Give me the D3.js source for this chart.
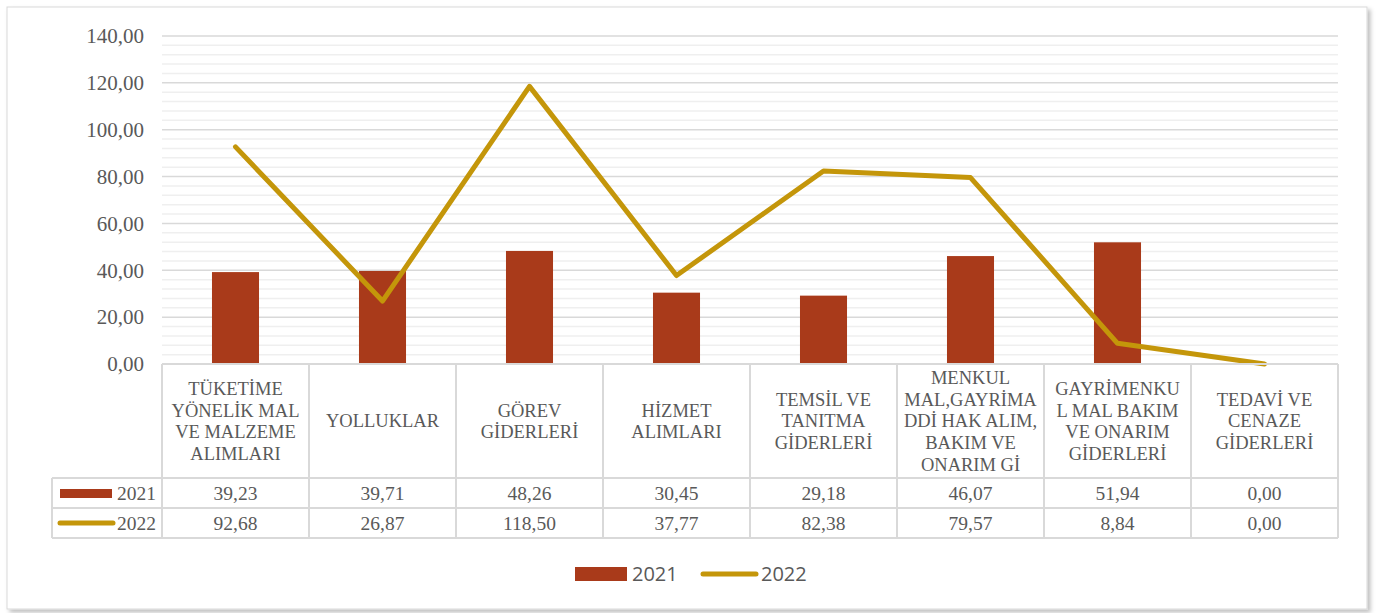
<!DOCTYPE html>
<html>
<head>
<meta charset="utf-8">
<script src="https://cdn.jsdelivr.net/npm/d3@7"></script>
<style>
  body { margin: 0; background: #fff; }
  svg { display: block; }
  text { font-family: "Liberation Serif", "Times New Roman", serif; }
</style>
</head>
<body>
<svg class="chart" width="1376" height="613"></svg>
<script>
// kategoriler (tablo başlıkları, satır satır)
var categories = [
  ["TÜKETİME", "YÖNELİK MAL", "VE MALZEME", "ALIMLARI"],
  ["YOLLUKLAR"],
  ["GÖREV", "GİDERLERİ"],
  ["HİZMET", "ALIMLARI"],
  ["TEMSİL VE", "TANITMA", "GİDERLERİ"],
  ["MENKUL", "MAL,GAYRİMA", "DDİ HAK ALIM,", "BAKIM VE", "ONARIM Gİ"],
  ["GAYRİMENKU", "L MAL BAKIM", "VE ONARIM", "GİDERLERİ"],
  ["TEDAVİ VE", "CENAZE", "GİDERLERİ"]
];
var values2021 = [39.23, 39.71, 48.26, 30.45, 29.18, 46.07, 51.94, 0.00];
var values2022 = [92.68, 26.87, 118.50, 37.77, 82.38, 79.57, 8.84, 0.00];
var yTicks = [0, 20, 40, 60, 80, 100, 120, 140];

var barColor = "#a93a1a", lineColor = "#c4960a", textColor = "#595959";
var fmt = function(v) { return d3.format(".2f")(v).replace(".", ","); };

var svg = d3.select(".chart");

// gölge
var defs = svg.append("defs");
var f = defs.append("filter").attr("id", "shadow").attr("x", "-2%").attr("y", "-2%").attr("width", "104%").attr("height", "106%");
f.append("feDropShadow").attr("dx", 3).attr("dy", 3).attr("stdDeviation", 2).attr("flood-color", "#000").attr("flood-opacity", 0.25);

svg.append("rect")
  .attr("x", 7).attr("y", 7).attr("width", 1360).attr("height", 602)
  .attr("fill", "#fff").attr("stroke", "#d9d9d9").attr("stroke-width", 1)
  .attr("filter", "url(#shadow)");

var plotLeft = 162, plotRight = 1338, plotTop = 36, plotBottom = 364;

var x = d3.scaleBand().domain(d3.range(categories.length)).range([plotLeft, plotRight]);
var y = d3.scaleLinear().domain([0, 140]).range([plotBottom, plotTop]);

// ara çizgiler
var g = svg.append("g");
g.selectAll(".minor")
  .data(d3.range(0, 141, 4).filter(function(d) { return d % 20 !== 0; }))
  .enter().append("line")
  .attr("x1", plotLeft).attr("x2", plotRight)
  .attr("y1", function(d) { return y(d); }).attr("y2", function(d) { return y(d); })
  .attr("stroke", "#efefef").attr("stroke-width", 1.5);

g.selectAll(".major")
  .data(yTicks.slice(1))
  .enter().append("line")
  .attr("x1", plotLeft).attr("x2", plotRight)
  .attr("y1", function(d) { return y(d); }).attr("y2", function(d) { return y(d); })
  .attr("stroke", "#d9d9d9").attr("stroke-width", 1.5);

// y ekseni
var yAxis = d3.axisLeft(y).tickValues(yTicks).tickFormat(fmt).tickSize(0).tickPadding(18);
var ya = svg.append("g").attr("transform", "translate(" + plotLeft + ",0)").call(yAxis);
ya.select(".domain").remove();
ya.selectAll("text").attr("fill", textColor)
  .style("font-family", "'Liberation Serif', serif").style("font-size", "21px");

// barlar
var bw = x.bandwidth() * 0.32;
svg.selectAll(".bar")
  .data(values2021)
  .enter().append("rect")
  .attr("class", "bar")
  .attr("x", function(d, i) { return x(i) + x.bandwidth() / 2 - bw / 2; })
  .attr("y", function(d) { return y(d); })
  .attr("width", bw)
  .attr("height", function(d) { return plotBottom - y(d); })
  .attr("fill", barColor);

// çizgi
var line = d3.line()
  .x(function(d, i) { return x(i) + x.bandwidth() / 2; })
  .y(function(d) { return y(d); });
svg.append("path")
  .datum(values2022)
  .attr("d", line)
  .attr("fill", "none")
  .attr("stroke", lineColor)
  .attr("stroke-width", 5)
  .attr("stroke-linecap", "round")
  .attr("stroke-linejoin", "round");

// veri tablosu
var headBottom = 478, rowH = 30, tableLeft = 52;
var t = svg.append("g");
var gridStroke = "#d9d9d9";

// yatay çizgiler
[plotBottom, headBottom, headBottom + rowH, headBottom + 2 * rowH].forEach(function(yy, k) {
  t.append("line")
    .attr("x1", k === 0 ? plotLeft : tableLeft).attr("x2", plotRight)
    .attr("y1", yy).attr("y2", yy)
    .attr("stroke", gridStroke).attr("stroke-width", 2);
});
// dikey çizgiler
d3.range(categories.length + 1).forEach(function(i) {
  var xx = i < categories.length ? x(i) : plotRight;
  t.append("line")
    .attr("x1", xx).attr("x2", xx)
    .attr("y1", plotBottom).attr("y2", headBottom + 2 * rowH)
    .attr("stroke", gridStroke).attr("stroke-width", 2);
});
t.append("line")
  .attr("x1", tableLeft).attr("x2", tableLeft)
  .attr("y1", headBottom).attr("y2", headBottom + 2 * rowH)
  .attr("stroke", gridStroke).attr("stroke-width", 2);

// başlıklar
var lh = 21.7;
categories.forEach(function(lines, i) {
  var cx = x(i) + x.bandwidth() / 2;
  var cy = (plotBottom + headBottom) / 2 - (lines.length - 1) * lh / 2;
  var txt = t.append("text")
    .attr("text-anchor", "middle")
    .attr("fill", textColor)
    .style("font-family", "'Liberation Serif', serif")
    .style("font-size", "18.5px");
  lines.forEach(function(s, k) {
    txt.append("tspan").attr("x", cx).attr("y", cy + k * lh).attr("dy", "0.35em").text(s);
  });
});

// değerler
[values2021, values2022].forEach(function(vals, r) {
  var cy = headBottom + rowH * r + rowH / 2;
  vals.forEach(function(v, i) {
    t.append("text")
      .attr("x", x(i) + x.bandwidth() / 2).attr("y", cy).attr("dy", "0.35em")
      .attr("text-anchor", "middle").attr("fill", textColor)
      .style("font-family", "'Liberation Serif', serif")
      .style("font-size", "19.5px")
      .text(fmt(v));
  });
  // tablo lejandı
  if (r === 0) {
    t.append("rect").attr("x", 60).attr("y", cy - 4).attr("width", 52).attr("height", 9).attr("fill", barColor);
  } else {
    t.append("line").attr("x1", 60).attr("x2", 113).attr("y1", cy).attr("y2", cy)
      .attr("stroke", lineColor).attr("stroke-width", 5).attr("stroke-linecap", "round");
  }
  t.append("text")
    .attr("x", 117).attr("y", cy).attr("dy", "0.35em")
    .attr("fill", textColor)
    .style("font-family", "'Liberation Serif', serif")
    .style("font-size", "19.5px")
    .text(r === 0 ? "2021" : "2022");
});

// lejand
var lg = svg.append("g");
var ly = 574;
lg.append("rect").attr("x", 575).attr("y", ly - 7).attr("width", 52).attr("height", 14).attr("fill", barColor);
lg.append("text").attr("x", 632).attr("y", ly).attr("dy", "0.35em")
  .attr("fill", textColor).style("font-family", "'Open Sans', sans-serif").style("font-size", "20px").text("2021");
lg.append("line").attr("x1", 703).attr("x2", 756).attr("y1", ly).attr("y2", ly)
  .attr("stroke", lineColor).attr("stroke-width", 5).attr("stroke-linecap", "round");
lg.append("text").attr("x", 761).attr("y", ly).attr("dy", "0.35em")
  .attr("fill", textColor).style("font-family", "'Open Sans', sans-serif").style("font-size", "20px").text("2022");
</script>
</body>
</html>
